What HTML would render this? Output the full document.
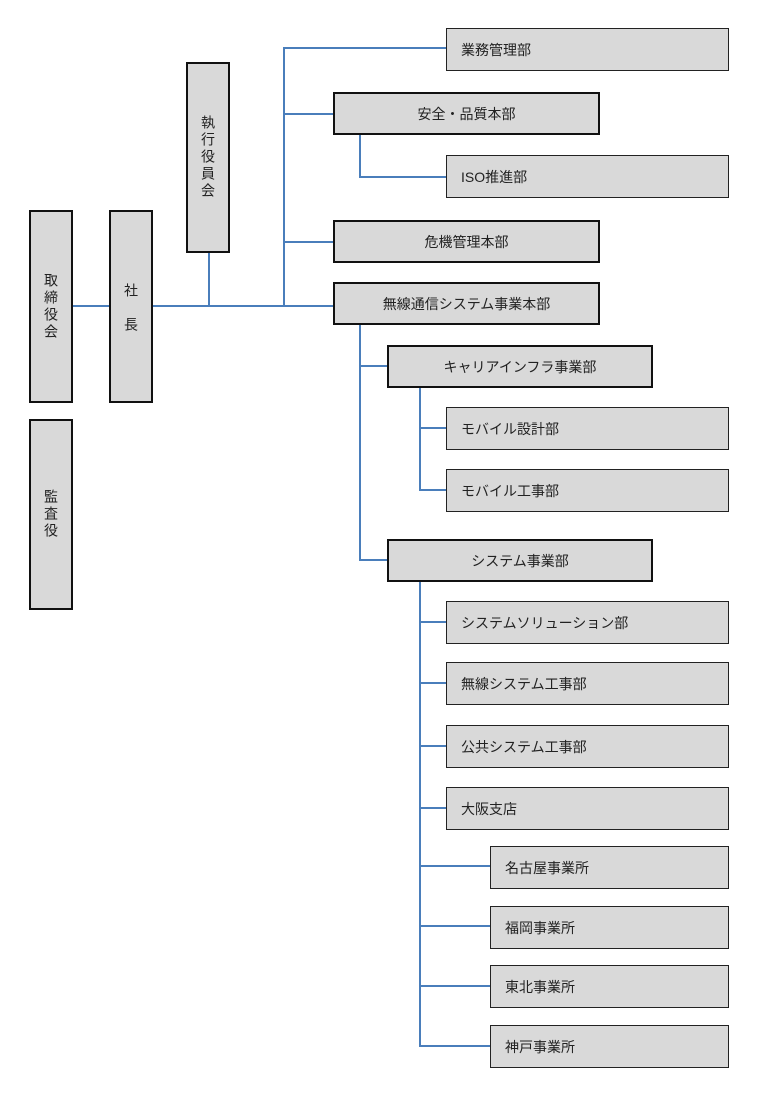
<!DOCTYPE html>
<html><head><meta charset="utf-8"><style>
body{margin:0;background:#fff;width:772px;height:1104px;position:relative;overflow:hidden;font-family:"Liberation Sans","Noto Sans CJK JP",sans-serif;font-size:14px;color:#222}
.b{position:absolute;background:#d9d9d9;box-sizing:border-box;display:flex;align-items:center}
.t{border:2px solid #111;justify-content:center}
.n{border:1px solid #222;padding-left:14px}
.v{border:2px solid #111;justify-content:center;writing-mode:vertical-rl;line-height:1}
.l{position:absolute;background:#4a7ebb}
</style></head><body>
<!-- lines -->
<div class="l" style="left:72px;top:305px;width:262px;height:2px"></div>
<div class="l" style="left:208px;top:252px;width:2px;height:54px"></div>
<div class="l" style="left:283px;top:47px;width:2px;height:260px"></div>
<div class="l" style="left:283px;top:47px;width:163px;height:2px"></div>
<div class="l" style="left:283px;top:113px;width:51px;height:2px"></div>
<div class="l" style="left:283px;top:241px;width:51px;height:2px"></div>
<div class="l" style="left:359px;top:134px;width:2px;height:44px"></div>
<div class="l" style="left:359px;top:176px;width:87px;height:2px"></div>
<div class="l" style="left:359px;top:324px;width:2px;height:237px"></div>
<div class="l" style="left:359px;top:365px;width:29px;height:2px"></div>
<div class="l" style="left:359px;top:559px;width:29px;height:2px"></div>
<div class="l" style="left:419px;top:387px;width:2px;height:103px"></div>
<div class="l" style="left:419px;top:427px;width:27px;height:2px"></div>
<div class="l" style="left:419px;top:489px;width:27px;height:2px"></div>
<div class="l" style="left:419px;top:581px;width:2px;height:466px"></div>
<div class="l" style="left:419px;top:621px;width:27px;height:2px"></div>
<div class="l" style="left:419px;top:682px;width:27px;height:2px"></div>
<div class="l" style="left:419px;top:745px;width:27px;height:2px"></div>
<div class="l" style="left:419px;top:807px;width:27px;height:2px"></div>
<div class="l" style="left:419px;top:865px;width:71px;height:2px"></div>
<div class="l" style="left:419px;top:925px;width:71px;height:2px"></div>
<div class="l" style="left:419px;top:985px;width:71px;height:2px"></div>
<div class="l" style="left:419px;top:1045px;width:71px;height:2px"></div>
<!-- vertical boxes -->
<div class="b v" style="left:29px;top:210px;width:44px;height:193px;letter-spacing:3px">取締役会</div>
<div class="b v" style="left:29px;top:419px;width:44px;height:191px;letter-spacing:3px">監査役</div>
<div class="b v" style="left:109px;top:210px;width:44px;height:193px;letter-spacing:20px;padding-top:20px">社長</div>
<div class="b v" style="left:186px;top:62px;width:44px;height:191px;letter-spacing:3px">執行役員会</div>
<!-- thick boxes -->
<div class="b t" style="left:333px;top:92px;width:267px;height:43px">安全・品質本部</div>
<div class="b t" style="left:333px;top:220px;width:267px;height:43px">危機管理本部</div>
<div class="b t" style="left:333px;top:282px;width:267px;height:43px">無線通信システム事業本部</div>
<div class="b t" style="left:387px;top:345px;width:266px;height:43px">キャリアインフラ事業部</div>
<div class="b t" style="left:387px;top:539px;width:266px;height:43px">システム事業部</div>
<!-- thin boxes -->
<div class="b n" style="left:446px;top:28px;width:283px;height:43px">業務管理部</div>
<div class="b n" style="left:446px;top:155px;width:283px;height:43px">ISO推進部</div>
<div class="b n" style="left:446px;top:407px;width:283px;height:43px">モバイル設計部</div>
<div class="b n" style="left:446px;top:469px;width:283px;height:43px">モバイル工事部</div>
<div class="b n" style="left:446px;top:601px;width:283px;height:43px">システムソリューション部</div>
<div class="b n" style="left:446px;top:662px;width:283px;height:43px">無線システム工事部</div>
<div class="b n" style="left:446px;top:725px;width:283px;height:43px">公共システム工事部</div>
<div class="b n" style="left:446px;top:787px;width:283px;height:43px">大阪支店</div>
<div class="b n" style="left:490px;top:846px;width:239px;height:43px">名古屋事業所</div>
<div class="b n" style="left:490px;top:906px;width:239px;height:43px">福岡事業所</div>
<div class="b n" style="left:490px;top:965px;width:239px;height:43px">東北事業所</div>
<div class="b n" style="left:490px;top:1025px;width:239px;height:43px">神戸事業所</div>
</body></html>
